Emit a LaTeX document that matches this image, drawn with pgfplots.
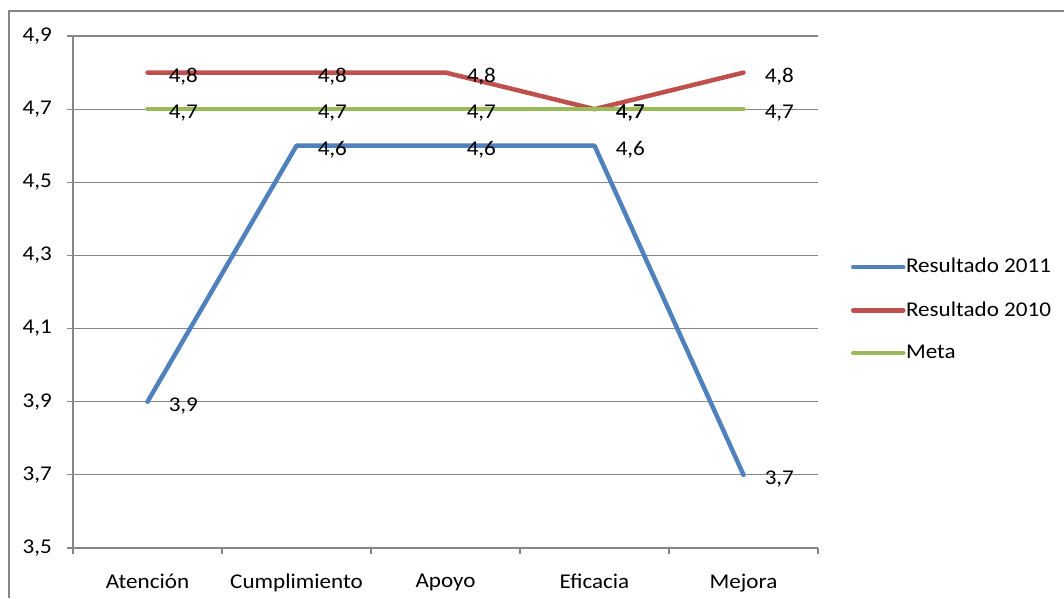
\documentclass[border=0pt]{standalone}
\usepackage{fontspec}
\setmainfont{Carlito}[FakeStretch=1.1]
\usepackage{pgfplots}
\pgfplotsset{compat=1.18}
\definecolor{s2011}{HTML}{4F81BD}
\definecolor{s2010}{HTML}{C0504D}
\definecolor{smeta}{HTML}{9BBB59}
\definecolor{axisgray}{HTML}{868686}

\begin{document}
\fontsize{21pt}{25pt}\selectfont
\begin{tikzpicture}
\path[use as bounding box] (0,0) rectangle (1064pt,598pt);
\draw[axisgray, line width=1.3pt] (9pt,0pt) -- (9pt,587pt) -- (1064pt,587pt);
\begin{axis}[
  at={(73pt,50pt)}, anchor=south west,
  scale only axis, width=745pt, height=512pt,
  xmin=-0.5, xmax=4.5, ymin=3.5, ymax=4.9,
  xtick={0,1,2,3,4},
  xticklabels={Atención,Cumplimiento,Apoyo,Eficacia,Mejora},
  minor xtick={-0.5,0.5,1.5,2.5,3.5,4.5},
  ytick={3.5,3.7,3.9,4.1,4.3,4.5,4.7,4.9},
  ymajorgrids,
  major grid style={axisgray, line width=1.2pt},
  axis x line*=bottom, axis y line*=left,
  axis line style={axisgray, line width=1.2pt, -},
  tick align=outside,
  major tick length=6pt, minor tick length=6pt,
  tick style={axisgray, line width=1.2pt},
  major x tick style={draw=none},
  /pgf/number format/.cd, use comma, fixed, fixed zerofill, precision=1, assume math mode=true,
  /pgfplots/.cd,
  yticklabel style={xshift=-8pt},
  xticklabel style={yshift=-13pt},
  nodes near coords,
  every node near coord/.append style={anchor=west, xshift=12pt, yshift=-4pt, text=black},
  legend style={at={(1.04,0.465)}, anchor=west, draw=none, fill=none,
    row sep=21.5pt, legend cell align=left, nodes={inner xsep=0.5pt}},
  legend image code/.code={\draw[#1] (0pt,0pt) -- (50pt,0pt);},
  every axis plot/.append style={line width=4.5pt, line cap=round, line join=round},
]
\addplot[s2011] coordinates {(0,3.9) (1,4.6) (2,4.6) (3,4.6) (4,3.7)};
\addlegendentry{Resultado 2011}
\addplot[s2010] coordinates {(0,4.8) (1,4.8) (2,4.8) (3,4.7) (4,4.8)};
\addlegendentry{Resultado 2010}
\addplot[smeta] coordinates {(0,4.7) (1,4.7) (2,4.7) (3,4.7) (4,4.7)};
\addlegendentry{Meta}
\end{axis}
\end{tikzpicture}
\end{document}
